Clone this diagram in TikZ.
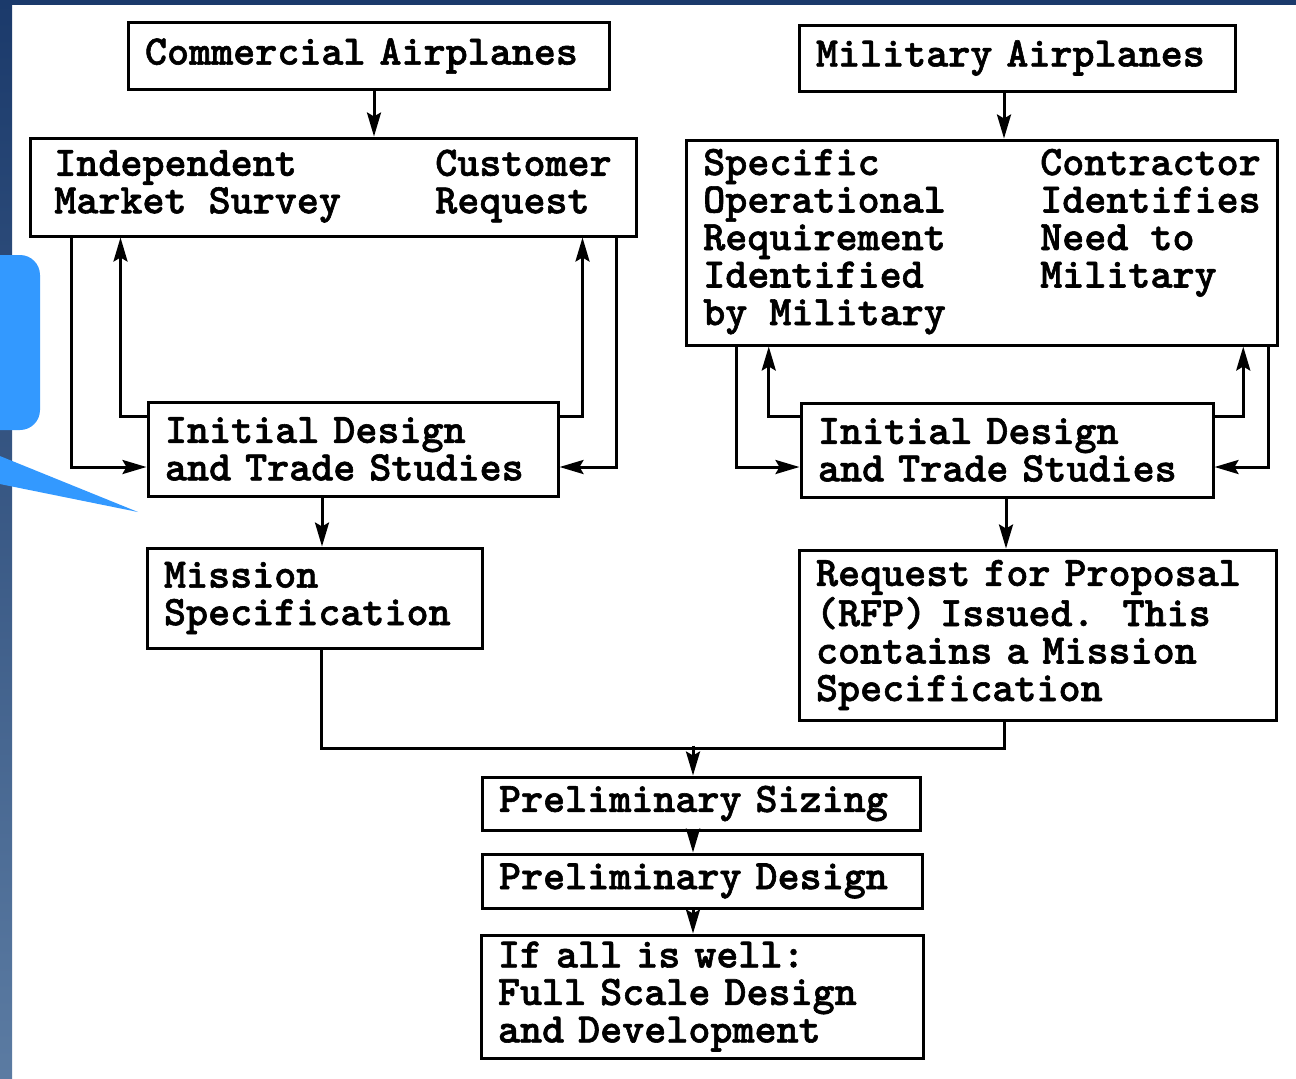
\documentclass[tikz,border=0pt]{standalone}
\usepackage{fontspec}
\usetikzlibrary{arrows.meta,calc}

\newfontfamily\typewfont{lmmonolt10-bold.otf}[AutoFakeBold=1.4]

\definecolor{navy}{HTML}{1B3A6B}
\definecolor{steel}{HTML}{5B7BA2}
\definecolor{callout}{HTML}{3399FF}

\newcommand{\boxfont}{\typewfont\bfseries\fontsize{21}{18.75}\selectfont\frenchspacing}

\tikzset{
  wire/.style={line width=1.5pt},
  box/.style={draw, wire, align=left, inner xsep=8.5pt, inner ysep=0pt, font=\boxfont},
  arr/.style={wire, -{Stealth[length=12pt,width=7pt,inset=2pt]}},
}

\begin{document}
\begin{tikzpicture}[x=0.5pt, y=-0.5pt]
            \useasboundingbox (0,0) rectangle (1296,1078);
            \fill[white] (0,0) rectangle (1296,1078);
            \shade[top color=navy, bottom color=steel] (0,0) rectangle (12,1078);
            \fill[navy] (0,0) rectangle (1296,5);
            \fill[callout, rounded corners=10pt] (-40,255) rectangle (40,430);
            \fill[callout] (-10,452) -- (138,512) -- (-10,482) -- cycle;

            \node[box, minimum width=240.5pt, minimum height=33.5pt, text width=223.5pt] (com) at (368.5,56) {Commercial Airplanes};
            \node[box, minimum width=218pt, minimum height=33pt, text width=201pt] (mil) at (1017,58) {Military Airplanes};
            \node[box, minimum width=303pt, minimum height=49pt] (mkt) at (333,187)
                {\begin{tabular}{@{}p{190.5pt}@{}l@{}}Independent & Customer\\ Market Survey & Request\end{tabular}};
            \node[box, minimum width=294pt, minimum height=102.5pt] (sor) at (982,242.5)
                {\begin{tabular}{@{}p{168.5pt}@{}l@{}}Specific & Contractor\\ Operational & Identifies\\ Requirement & Need to\\ Identified & Military\\ by Military & \end{tabular}};
            \node[box, minimum width=205pt, minimum height=47pt, text width=188pt] (ids1) at (353,449) {Initial Design\\and Trade Studies};
            \node[box, minimum width=206pt, minimum height=47pt, text width=189pt] (ids2) at (1007,450) {Initial Design\\and Trade Studies};
            \node[box, minimum width=167.5pt, minimum height=50pt, text width=150.5pt] (mis) at (314.5,598) {Mission\\Specification};
            \node[box, minimum width=238.5pt, minimum height=85pt, text width=221.5pt] (rfp) at (1037.5,635) {Request for Proposal\\(RFP) Issued.~~This\\contains a Mission\\Specification};
            \node[box, minimum width=219pt, minimum height=26.5pt, text width=202pt] (psz) at (701,803.5) {Preliminary Sizing};
            \node[box, minimum width=220pt, minimum height=27pt, text width=203pt] (pds) at (702,881) {Preliminary Design};
            \node[box, minimum width=221pt, minimum height=61.5pt, text width=204pt] (fsd) at (702,996.5) {If all is well:\\Full Scale Design\\and Development};

            \draw[arr] ($(com.south)+(5.5,0)$) -- ($(mkt.north)+(41,0)$);
            \draw[arr] ($(mil.south)+(-13,0)$) -- ($(sor.north)+(22,0)$);

            % commercial loop
            \draw[arr] ($(mkt.south west)+(43,0)$) |- ($(ids1.west)+(0,18)$);
            \draw[arr] ($(ids1.west)+(0,-33)$) -| ($(mkt.south west)+(92,0)$);
            \draw[arr] ($(ids1.east)+(0,-33)$) -| ($(mkt.south east)+(-55,0)$);
            \draw[arr] ($(mkt.south east)+(-21,0)$) |- ($(ids1.east)+(0,18)$);

            % military loop
            \draw[arr] ($(sor.south west)+(52,0)$) |- ($(ids2.west)+(0,17)$);
            \draw[arr] ($(ids2.west)+(0,-34)$) -| ($(sor.south west)+(84,0)$);
            \draw[arr] ($(ids2.east)+(0,-34)$) -| ($(sor.south east)+(-36,0)$);
            \draw[arr] ($(sor.south east)+(-11,0)$) |- ($(ids2.east)+(0,17)$);

            \draw[arr] ($(ids1.south)+(-31,0)$) -- ($(mis.north)+(7.5,0)$);
            \draw[arr] ($(ids2.south)+(-1,0)$) -- ($(rfp.north)+(-31.5,0)$);

            \draw[wire] ($(mis.south)+(6.5,0)$) |- ($(rfp.south)+(-33.5,27)$) -- ($(rfp.south)+(-33.5,0)$);
            \draw[arr] ($(psz.north)+(-8,-30)$) -- ($(psz.north)+(-8,0)$);
            \draw[arr] ($(psz.south)+(-8,0)$) -- ($(pds.north)+(-9,0)$);
            \draw[arr] ($(pds.south)+(-9,0)$) -- ($(fsd.north)+(-9,0)$);
\end{tikzpicture}
\end{document}
